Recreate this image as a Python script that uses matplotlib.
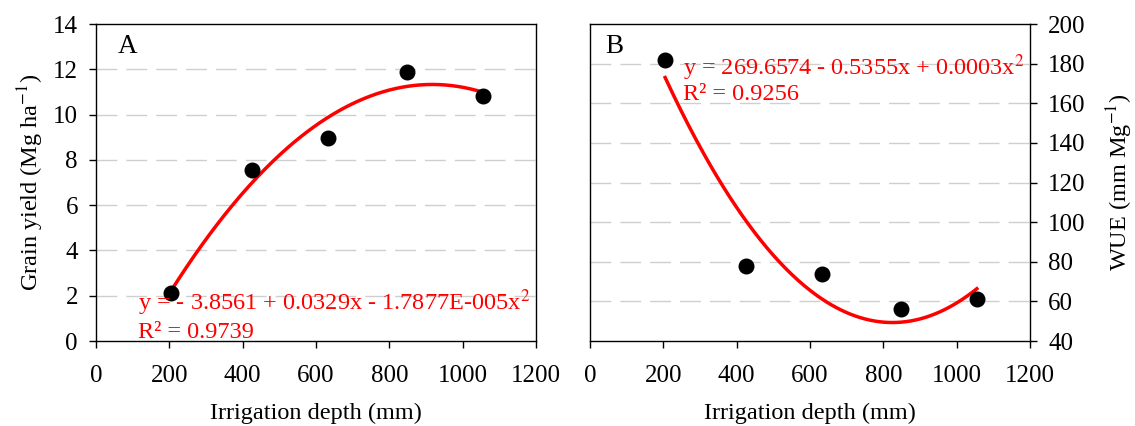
#Purpose: Grain yield and WUE vs irrigation depth, with quadratic trendlines
import matplotlib.pyplot as plt
import numpy as np

##########################################
#Data
irrigation = [205, 425, 632, 848, 1055]
grain_yield = [2.1, 7.55, 8.98, 11.87, 10.82]
wue = [182, 78, 74, 56, 61]

yield_eq = 'y = - 3.8561 + 0.0329x - 1.7877E-005x$^{2}$'
yield_r2 = 'R² = 0.9739'
wue_eq = 'y = 269.6574 - 0.5355x + 0.0003x$^{2}$'
wue_r2 = 'R² = 0.9256'

x_ticks = [0, 200, 400, 600, 800, 1000, 1200]

##########################################
#Style
plt.rcParams['font.family'] = ['Liberation Serif', 'DejaVu Serif']
plt.rcParams['mathtext.fontset'] = 'stix'
font_size = 18
grid_color = '#cfcfcf'
fit_color = '#ff0000'

fig = plt.figure(figsize=(11.35, 4.26), dpi=100)
ax_a = fig.add_axes([0.0846, 0.1995, 0.3877, 0.744])
ax_b = fig.add_axes([0.5198, 0.1995, 0.3877, 0.744])


def draw_panel(ax, x, y, ylim, yticks, eq, r2, eq_pos, letter, letter_x):
	#Quadratic fit, as the spreadsheet trendline
	coefs = np.polyfit(x, y, 2)
	xs = np.linspace(min(x), max(x), 200)
	ax.plot(xs, np.polyval(coefs, xs), color=fit_color, lw=2.5, zorder=3)
	ax.scatter(x, y, s=110, color='black', zorder=4)

	ax.set_xlim(0, 1200)
	ax.set_ylim(*ylim)
	ax.set_xticks(x_ticks)
	ax.set_yticks(yticks)
	for yt in yticks[1:-1]:
		ax.axhline(yt, color=grid_color, lw=1.0, dashes=(15, 6.5), zorder=1)

	ax.tick_params(direction='out', length=5, width=1, labelsize=font_size)
	ax.tick_params(axis='x', pad=12)
	ax.tick_params(axis='y', pad=8)
	for sp in ax.spines.values():
		sp.set_linewidth(1.0)
	ax.set_xlabel('Irrigation depth (mm)', fontsize=font_size - 0.5, labelpad=12)

	ax.text(eq_pos[0], eq_pos[1], eq, color=fit_color, fontsize=17.5, va='baseline', zorder=5)
	ax.text(eq_pos[0], eq_pos[2], r2, color=fit_color, fontsize=17.5, va='baseline', zorder=5)
	ax.text(letter_x, 0.93, letter, transform=ax.transAxes, fontsize=19.5, va='center')


#Panel A
draw_panel(ax_a, irrigation, grain_yield, (0, 14), list(range(0, 15, 2)),
	yield_eq, yield_r2, (115, 1.37, 0.13), 'A', 0.05)
ax_a.set_ylabel('Grain yield (Mg ha$^{-1}$)', fontsize=font_size - 0.5, labelpad=5)

#Panel B
draw_panel(ax_b, irrigation, wue, (40, 200), list(range(40, 201, 20)),
	wue_eq, wue_r2, (255, 174.3, 161.6), 'B', 0.034)
ax_b.yaxis.tick_right()
ax_b.yaxis.set_label_position('right')
ax_b.set_ylabel('WUE (mm Mg$^{-1}$)', fontsize=font_size - 0.5, labelpad=14)

plt.savefig('out.png', dpi=100)
